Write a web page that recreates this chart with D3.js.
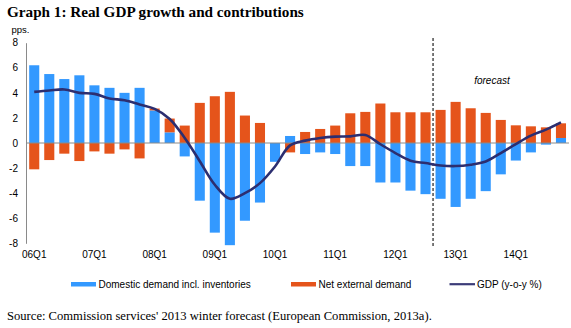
<!DOCTYPE html>
<html>
<head>
<meta charset="utf-8">
<script src="https://cdn.jsdelivr.net/npm/d3@7"></script>
<style>
  html, body { margin: 0; padding: 0; background: #fff; }
  svg { display: block; }
</style>
</head>
<body>
<svg id="chart" width="571" height="328"></svg>
<script>
// Quarters 2006Q1 – 2014Q4
const quarters = [
  "06Q1","06Q2","06Q3","06Q4","07Q1","07Q2","07Q3","07Q4",
  "08Q1","08Q2","08Q3","08Q4","09Q1","09Q2","09Q3","09Q4",
  "10Q1","10Q2","10Q3","10Q4","11Q1","11Q2","11Q3","11Q4",
  "12Q1","12Q2","12Q3","12Q4","13Q1","13Q2","13Q3","13Q4",
  "14Q1","14Q2","14Q3","14Q4"
];

// Contribution of domestic demand (incl. inventories), pps.
const domestic = [
  6.2, 5.5, 5.1, 5.4, 4.6, 4.4, 4.0, 4.4,
  2.6, 0.85, -1.07, -4.6, -7.15, -8.15, -6.2, -4.75,
  -1.5, 0.56, -0.88, -0.75, -0.88, -1.84, -1.84, -3.15,
  -3.15, -3.8, -4.08, -4.45, -5.1, -4.45, -3.84, -2.5,
  -1.4, -0.75, -0.13, 0.4
];

// Contribution of net external demand, pps.
const external = [
  -2.1, -1.36, -0.85, -1.44, -0.67, -0.85, -0.51, -1.23,
  0.15, 1.1, 1.39, 3.2, 3.73, 4.08, 2.19, 1.6,
  0.0, -0.75, 0.88, 1.12, 1.39, 2.37, 2.48, 3.15,
  2.45, 2.45, 2.45, 2.64, 3.28, 2.77, 2.4, 1.84,
  1.41, 1.33, 1.25, 1.17
];

// Real GDP growth, y-o-y %
const gdp = [
  4.08, 4.19, 4.27, 4.0, 3.92, 3.55, 3.41, 3.07,
  2.72, 1.92, 0.4, -1.45, -3.33, -4.45, -4.0, -3.2,
  -1.87, -0.19, 0.19, 0.4, 0.51, 0.53, 0.64, -0.1,
  -0.8, -1.41, -1.6, -1.79, -1.84, -1.73, -1.47, -0.8,
  -0.08, 0.59, 1.07, 1.65
];

const yTicks = [-8, -6, -4, -2, 0, 2, 4, 6, 8];
const xTickLabels = ["06Q1","07Q1","08Q1","09Q1","10Q1","11Q1","12Q1","13Q1","14Q1"];
const firstForecast = "12Q4";

const seriesNames = ["Domestic demand incl. inventories", "Net external demand"];
const lineName = "GDP (y-o-y %)";

const colors = { domestic: "#3399ff", external: "#e5541b", gdp: "#2c2e70" };

const svg = d3.select("#chart");

// Title
svg.append("text")
  .attr("x", 7).attr("y", 16.5)
  .attr("font-family", "'Liberation Serif', 'Times New Roman', serif")
  .attr("font-weight", "bold")
  .attr("font-size", "15.2px")
  .attr("fill", "#000")
  .text("Graph 1: Real GDP growth and contributions");

// Scales
const x = d3.scaleBand()
  .domain(quarters)
  .range([26.7, 568.5])
  .paddingInner(0.33)
  .paddingOuter(0.165);

const y = d3.scaleLinear()
  .domain([-8, 8])
  .range([243.3, 42.7]);

const sans = "'Liberation Sans', Arial, sans-serif";

// Unit label
svg.append("text")
  .attr("x", 11.5).attr("y", 33)
  .attr("font-family", sans).attr("font-size", "9.5px").attr("fill", "#000")
  .text("pps.");

// Y axis
const yAxis = svg.append("g")
  .attr("transform", "translate(26,0)")
  .call(d3.axisLeft(y).tickValues(yTicks).tickSize(0).tickPadding(8).tickFormat(d3.format("d")));
yAxis.select(".domain").attr("stroke", "#8a8a8a").attr("stroke-width", 1);
yAxis.selectAll("text")
  .attr("font-family", sans).attr("font-size", "10px").attr("fill", "#000")
  .text(d => d < 0 ? "-" + Math.abs(d) : d);

// Stacked bars (positive and negative parts stacked separately)
const table = quarters.map((q, i) => ({ q, domestic: domestic[i], external: external[i] }));
const stack = d3.stack()
  .keys(["domestic", "external"])
  .offset(d3.stackOffsetDiverging);
const layers = stack(table);

svg.append("g")
  .selectAll("g")
  .data(layers)
  .join("g")
  .attr("fill", d => colors[d.key])
  .selectAll("rect")
  .data(d => d)
  .join("rect")
  .attr("x", d => x(d.data.q))
  .attr("width", x.bandwidth())
  .attr("y", d => y(Math.max(d[0], d[1])))
  .attr("height", d => Math.abs(y(d[0]) - y(d[1])));

// Zero line
svg.append("line")
  .attr("x1", 26).attr("x2", 569)
  .attr("y1", y(0)).attr("y2", y(0))
  .attr("stroke", "#8a8a8a").attr("stroke-width", 1);

// X tick labels
const xAxis = svg.append("g")
  .attr("transform", `translate(0,${y(-8)})`)
  .call(d3.axisBottom(x).tickValues(xTickLabels).tickSize(0).tickPadding(8));
xAxis.select(".domain").remove();
xAxis.selectAll("text")
  .attr("font-family", sans).attr("font-size", "10px").attr("fill", "#000");

// Forecast boundary
const step = x.step();
const fx = x(firstForecast) - step * x.paddingInner() / 2;
svg.append("line")
  .attr("x1", fx).attr("x2", fx)
  .attr("y1", 38).attr("y2", 246)
  .attr("stroke", "#333").attr("stroke-width", 1.3)
  .attr("stroke-dasharray", "3,2");

svg.append("text")
  .attr("x", 492).attr("y", 84)
  .attr("text-anchor", "middle")
  .attr("font-family", sans).attr("font-size", "10px").attr("font-style", "italic")
  .attr("fill", "#000")
  .text("forecast");

// GDP line
const line = d3.line()
  .x((d, i) => x(quarters[i]) + x.bandwidth() / 2)
  .y(d => y(d))
  .curve(d3.curveCatmullRom.alpha(0.5));

svg.append("path")
  .datum(gdp)
  .attr("fill", "none")
  .attr("stroke", colors.gdp)
  .attr("stroke-width", 2.6)
  .attr("stroke-linejoin", "round")
  .attr("d", line);

// Legend
const legend = svg.append("g").attr("font-family", sans).attr("font-size", "10px");
const legendItems = [
  { name: seriesNames[0], color: colors.domestic, x0: 71, type: "bar" },
  { name: seriesNames[1], color: colors.external, x0: 291, type: "bar" },
  { name: lineName, color: colors.gdp, x0: 449.5, type: "line" }
];
legendItems.forEach(it => {
  if (it.type === "bar") {
    legend.append("rect")
      .attr("x", it.x0).attr("y", 282)
      .attr("width", 25).attr("height", 4.5)
      .attr("fill", it.color);
  } else {
    legend.append("line")
      .attr("x1", it.x0).attr("x2", it.x0 + 25.5)
      .attr("y1", 284.2).attr("y2", 284.2)
      .attr("stroke", "#3b3c78").attr("stroke-width", 2.2);
  }
  legend.append("text")
    .attr("x", it.x0 + 27.5).attr("y", 287.8)
    .attr("fill", "#000")
    .text(it.name);
});

// Source note
svg.append("text")
  .attr("x", 7).attr("y", 320)
  .attr("font-family", "'Liberation Serif', 'Times New Roman', serif")
  .attr("font-size", "12.6px")
  .attr("fill", "#000")
  .text("Source: Commission services' 2013 winter forecast (European Commission, 2013a).");
</script>
</body>
</html>
